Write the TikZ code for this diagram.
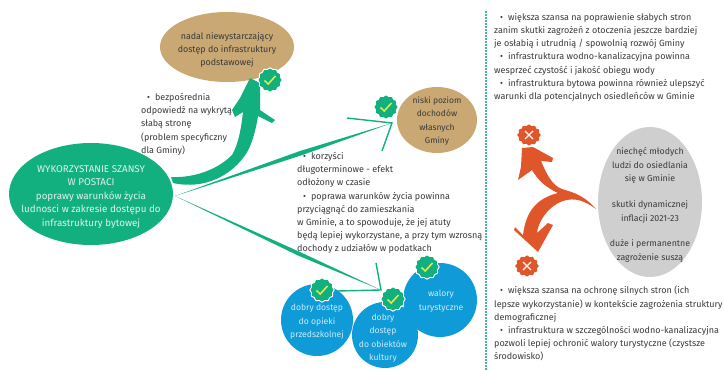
\documentclass[tikz,border=0pt]{standalone}
\usepackage{fontspec}
\setmainfont{Fira Sans}
\definecolor{gr}{HTML}{12B07F}
\definecolor{tan}{HTML}{C9A873}
\definecolor{bl}{HTML}{0E9BD8}
\definecolor{gy}{HTML}{CFCFCF}
\definecolor{or}{HTML}{E0562B}
\definecolor{tx}{HTML}{3A3A3A}
\definecolor{dt}{HTML}{3FB8A5}
\definecolor{ck}{HTML}{E4EC4A}
\tikzset{
 x=1pt,y=-1pt,
 body/.style={font=\fontsize{9}{13.2}\selectfont,text=tx,align=left,anchor=north west,inner sep=0pt},
 inner/.style={font=\fontsize{#1}{13.4}\selectfont,align=center,inner sep=0pt},
 pics/okbadge/.style={code={
   \fill[white] plot[smooth cycle,samples=48,domain=0:352] ({(12+0.7*cos(12*\x))*cos(\x)},{(12+0.7*cos(12*\x))*sin(\x)});
   \fill[gr] plot[smooth cycle,samples=48,domain=0:352] ({(10.8+0.7*cos(12*\x))*cos(\x)},{(10.8+0.7*cos(12*\x))*sin(\x)});
   \draw[ck,line width=1.5pt] (-5.5,0.5)--(-1.8,4)--(5.5,-4);
 }},
 pics/nobadge/.style={code={
   \fill[or] plot[smooth cycle,samples=48,domain=0:352] ({(11+0.8*cos(12*\x))*cos(\x)},{(9.8+0.8*cos(12*\x))*sin(\x)});
   \draw[white!85!pink,line width=1.1pt] (-4,-4)--(4,4) (-4,4)--(4,-4);
 }}
}
\begin{document}
\begin{tikzpicture}
\useasboundingbox (0,0) rectangle (724,370);
\fill[white] (0,0) rectangle (724,370);
% nodes
\fill[gr] (91,194) ellipse [x radius=82,y radius=51];
\node[inner=9.8,text=white!85!gr] (main) at (91,197) {WYKORZYSTANIE SZANSY\\W POSTACI\\poprawy warunków życia\\ludnosci w zakresie dostępu do\\infrastruktury bytowej};
\coordinate (mainE) at (171,177);
\coordinate (mainEb) at (173,183);
\coordinate (mainF) at (175,196);
\fill[tan] (227,47) ellipse [x radius=67,y radius=35];
\node[inner=8.9,text=tx] (infra) at (227,50) {nadal niewystarczający\\dostęp do infrastruktury\\podstawowej};
\fill[tan] (437,120) ellipse [x radius=40,y radius=33];
\node[inner=8.5,text=tx] (doch) at (437,121) {niski poziom\\dochodów\\własnych\\Gminy};
\fill[bl] (317,320) circle (36);
\fill[bl] (385,335) circle (33);
\fill[bl] (440,300) circle (37);
\node[inner=8.6,text=white!80!bl] (opieka) at (317,322) {dobry dostęp\\do opieki\\przedszkolnej};
\node[inner=8.6,text=white!80!bl] (kult) at (383,338) {dobry\\dostęp\\do obiektów\\kultury};
\node[inner=8.6,text=white!80!bl] (walory) at (441,301) {walory\\turystyczne};
\fill[gy] (650,202) ellipse [x radius=52,y radius=75];
\node[inner=8.8,text=tx] (grey) at (650,205) {niechęć młodych\\ludzi do osiedlania\\się w Gminie\\[13pt]skutki dynamicznej\\inflacji 2021-23\\[12pt]duże i permanentne\\zagrożenie suszą};
% big green arrow
\coordinate (tipA) at (250,78);
\fill[gr] (mainE) .. controls (190,178) and (215,172) .. (232,155)
 .. controls (238,145) and (241,130) .. (243,112)
 -- (235,117) -- (232,110) -- (240,98) -- (tipA) -- (260,83) -- (260,110) -- (275,120) -- (272,123) -- (258,116)
 .. controls (255,135) and (250,150) .. (243,158)
 .. controls (230,175) and (205,190) .. (mainEb) -- cycle;
% thin green arrows
\coordinate (tipB) at (392,123);
\coordinate (barbB1) at (347,118);
\coordinate (barbB2) at (382,151);
\fill[gr] (mainF) -- (300,151) -- (tipB) -- (301,155.5) -- cycle;
\draw[gr,line width=1.4pt] (barbB1) -- (tipB) -- (barbB2);
\coordinate (tipC) at (381,290);
\coordinate (barbC1) at (376,263);
\coordinate (barbC2) at (337,291);
\fill[gr] (mainF) -- (300,252) -- (tipC) -- (298,255.5) -- cycle;
\draw[gr,line width=1.4pt] (barbC1) -- (tipC) -- (barbC2);
% orange arrows
\coordinate (tipO) at (596,209);
\fill[or] (tipO) .. controls (588,200) and (580,194) .. (565,190)
 .. controls (555,187) and (550,182) .. (541,161)
 -- (552,162) -- (553,158) -- (533,147) -- (522,148) -- (521,167) -- (518,180) -- (532,170)
 .. controls (538,180) and (545,187) .. (558,193)
 .. controls (538,198) and (526,210) .. (523,235)
 -- (515,227) -- (514,230) -- (538,252) -- (553,225) -- (548,223) -- (537,233)
 .. controls (538,222) and (548,206) .. (563,201)
 .. controls (575,197) and (585,201) .. (tipO) -- cycle;
% badges
\pic at (270,80) {okbadge};
\pic at (386,107) {okbadge};
\pic at (322,290) {okbadge};
\pic at (393,299) {okbadge};
\pic at (427,267) {okbadge};
\pic at (529,135) {nobadge};
\pic at (527,266) {nobadge};
% divider
\coordinate (divT) at (486,11);
\coordinate (divB) at (486,370);
\draw[dt,line width=2pt,dash pattern=on 1.6pt off 1.4pt] (divT) -- (divB);
% texts
\node[body] (t1) at (141,93) {\hspace*{6pt}•\hspace*{5pt}bezpośrednia\\odpowiedź na wykrytą\\słabą stronę\\(problem specyficzny\\dla Gminy)};
\node[body] (t2) at (297,152) {\hspace*{6pt}•\hspace*{5pt}korzyści\\długoterminowe - efekt\\odłożony w czasie\\\hspace*{6pt}•\hspace*{5pt}poprawa warunków życia powinna\\przyciągnąć do zamieszkania\\w Gminie, a to spowoduje, że jej atuty\\będą lepiej wykorzystane, a przy tym wzrosną\\dochody z udziałów w podatkach};
\node[body] (t3) at (494,13) {\hspace*{6pt}•\hspace*{5pt}większa szansa na poprawienie słabych stron\\zanim skutki zagrożeń z otoczenia jeszcze bardziej\\je osłabią i utrudnią / spowolnią rozwój Gminy\\\hspace*{6pt}•\hspace*{5pt}infrastruktura wodno-kanalizacyjna powinna\\wesprzeć czystość i jakość obiegu wody\\\hspace*{6pt}•\hspace*{5pt}infrastruktura bytowa powinna również ulepszyć\\warunki dla potencjalnych osiedleńców w Gminie};
\node[body] (t4) at (494,286) {\hspace*{6pt}•\hspace*{5pt}większa szansa na ochronę silnych stron (ich\\lepsze wykorzystanie) w kontekście zagrożenia struktury\\demograficznej\\\hspace*{6pt}•\hspace*{5pt}infrastruktura w szczególności wodno-kanalizacyjna\\pozwoli lepiej ochronić walory turystyczne (czystsze\\środowisko)};
\end{tikzpicture}
\end{document}
